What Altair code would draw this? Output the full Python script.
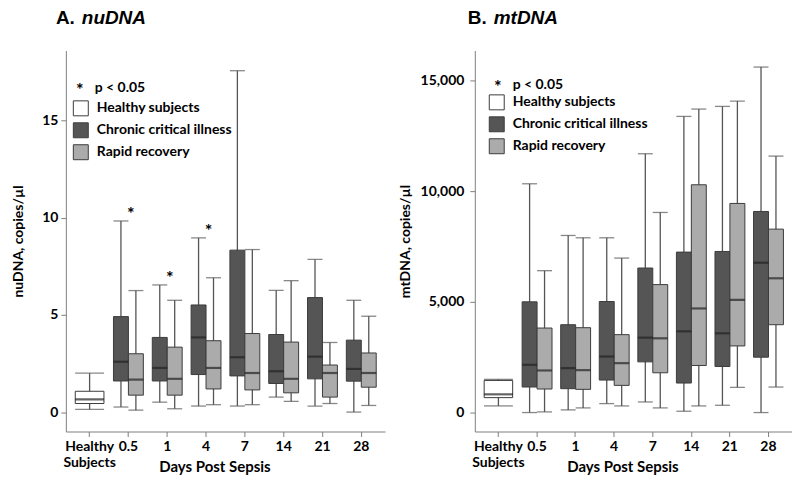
import altair as alt
import pandas as pd

categories = ["Healthy Subjects", "0.5", "1", "4", "7", "14", "21", "28"]
days = ["0.5", "1", "4", "7", "14", "21", "28"]
groups = ["Healthy subjects", "Chronic critical illness", "Rapid recovery"]
sub_groups = ["Chronic critical illness", "Rapid recovery"]

# ---- A. nuDNA (copies/ul) ----  [low whisker, q1, median, q3, high whisker]
nu_healthy = [0.14, 0.44, 0.65, 1.07, 2.0]
nu_cci_low = [0.26, 0.51, 0.31, 0.31, 0.77, 0.31, 0.0]
nu_cci_q1 = [1.60, 1.60, 1.93, 1.86, 1.47, 1.71, 1.59]
nu_cci_med = [2.59, 2.27, 3.84, 2.82, 2.10, 2.85, 2.22]
nu_cci_q3 = [4.91, 3.84, 5.51, 8.33, 3.99, 5.89, 3.70]
nu_cci_high = [9.83, 6.54, 8.96, 17.56, 6.26, 7.85, 5.75]
nu_rr_low = [0.10, 0.17, 0.38, 0.38, 0.55, 0.44, 0.34]
nu_rr_q1 = [0.87, 0.87, 1.19, 1.14, 0.99, 0.77, 1.28]
nu_rr_med = [1.67, 1.71, 2.27, 2.01, 1.71, 2.01, 2.01]
nu_rr_q3 = [3.00, 3.34, 3.67, 4.04, 3.60, 2.42, 3.04]
nu_rr_high = [6.25, 5.75, 6.91, 8.36, 6.76, 3.58, 4.93]
nu_star_days = ["0.5", "1", "4"]
nu_star_vals = [10.3, 7.0, 9.4]

# ---- B. mtDNA (copies/ul) ----
mt_healthy = [300, 674, 823, 1450, 1500]
mt_cci_low = [0, 120, 404, 479, 60, 329, 0]
mt_cci_q1 = [1153, 1078, 1467, 2290, 1332, 2081, 2500]
mt_cci_med = [2156, 2006, 2530, 3383, 3668, 3578, 6766]
mt_cci_q3 = [5000, 3967, 5015, 6527, 7246, 7275, 9081]
mt_cci_high = [10331, 7997, 7892, 11687, 13373, 13825, 15602]
mt_rr_low = [30, 210, 299, 210, 299, 1138, 1153]
mt_rr_q1 = [1063, 1048, 1228, 1796, 2126, 3009, 3967]
mt_rr_med = [1901, 1916, 2231, 3353, 4701, 5090, 6063]
mt_rr_q3 = [3817, 3832, 3518, 5778, 10286, 9443, 8283]
mt_rr_high = [6407, 7892, 6976, 9036, 13705, 14066, 11581]

FONT = "Lato"
CCI_FILL = "#555555"
RR_FILL = "#ababab"
STROKE = "#3c3c3c"
AXIS_GRAY = "#808080"


def make_df(healthy, cci, rr):
    rows = [dict(cat=categories[0], group=groups[0], low=healthy[0], q1=healthy[1],
                 med=healthy[2], q3=healthy[3], high=healthy[4])]
    for name, arr in ((groups[1], cci), (groups[2], rr)):
        for i, d in enumerate(days):
            rows.append(dict(cat=d, group=name, low=arr[0][i], q1=arr[1][i],
                             med=arr[2][i], q3=arr[3][i], high=arr[4][i]))
    return pd.DataFrame(rows)


def panel(df, w, h, domain, ticks, fmt, ytitle, ytitle_pad, lab_pad,
          letter, name, title_dx, leg_x, leg_y, star_pos, stars=None):
    xenc = alt.X("cat:N", sort=categories,
                 scale=alt.Scale(domain=categories, paddingInner=0.23, paddingOuter=0.227),
                 axis=alt.Axis(title="Days Post Sepsis", labelAngle=0, domainColor=AXIS_GRAY,
                               tickColor=AXIS_GRAY, tickSize=5, labelPadding=3,
                               labelFont=FONT, labelFontSize=14, labelFontWeight="bold",
                               labelColor="black", labelLineHeight=16,
                               labelExpr="datum.label == 'Healthy Subjects' ? ['Healthy', 'Subjects'] : datum.label",
                               titleFont=FONT, titleFontSize=15, titleFontWeight="bold",
                               titleColor="black", titleX=w / 2 - 11, titleY=28,
                               titleAlign="center", titleBaseline="top"))
    yscale = alt.Scale(domain=domain, nice=False, zero=False)
    yaxis = alt.Axis(values=ticks, format=fmt, grid=False, domainColor=AXIS_GRAY,
                     tickColor=AXIS_GRAY, tickSize=5, labelPadding=lab_pad,
                     labelFont=FONT, labelFontSize=14, labelFontWeight="bold",
                     labelColor="black", title=ytitle, titleFont=FONT, titleFontSize=14,
                     titleFontWeight="bold", titleColor="black", titlePadding=ytitle_pad)
    xoff = alt.XOffset("group:N", scale=alt.Scale(domain=sub_groups, paddingInner=0, paddingOuter=0))
    color = alt.Color("group:N",
                      scale=alt.Scale(domain=groups, range=["white", CCI_FILL, RR_FILL]),
                      legend=alt.Legend(orient="none", legendX=leg_x, legendY=leg_y, title=None,
                                        symbolType="square", symbolSize=225,
                                        symbolStrokeColor=STROKE, symbolStrokeWidth=1,
                                        labelFont=FONT, labelFontSize=14, labelFontWeight="bold",
                                        labelColor="black", rowPadding=2, labelOffset=8,
                                        padding=0))
    base = alt.Chart(df)
    sub = base.transform_filter(alt.datum.group != groups[0])
    hea = base.transform_filter(alt.datum.group == groups[0])
    y = alt.Y("low:Q", scale=yscale, axis=yaxis)

    whisk = sub.mark_rule(color="#555555", strokeWidth=1.3).encode(
        x=xenc, xOffset=xoff, y=y, y2="high:Q")
    whisk_h = hea.mark_rule(color="#555555", strokeWidth=1.3).encode(
        x=xenc, y=y, y2="high:Q")
    cap_lo = sub.mark_tick(color="#555555", thickness=1.3, size=15).encode(
        x=xenc, xOffset=xoff, y=y)
    cap_hi = sub.mark_tick(color="#555555", thickness=1.3, size=15).encode(
        x=xenc, xOffset=xoff, y="high:Q")
    cap_lo_h = hea.mark_tick(color="#555555", thickness=1.3, size=29).encode(x=xenc, y=y)
    cap_hi_h = hea.mark_tick(color="#555555", thickness=1.3, size=29).encode(x=xenc, y="high:Q")
    boxes = sub.mark_bar(stroke=STROKE, strokeWidth=1).encode(
        x=xenc, xOffset=xoff, y="q1:Q", y2="q3:Q", color=color)
    box_h = hea.mark_bar(stroke=STROKE, strokeWidth=1, width={"band": 0.96}).encode(
        x=xenc, y="q1:Q", y2="q3:Q", color=color)
    med = sub.mark_tick(color="#222222", thickness=2.2, size=15).encode(
        x=xenc, xOffset=xoff, y="med:Q")
    med_h = hea.mark_tick(color="#222222", thickness=2.2, size=29).encode(x=xenc, y="med:Q")

    layers = [whisk, whisk_h, cap_lo, cap_hi, cap_lo_h, cap_hi_h, boxes, box_h, med, med_h]

    if stars is not None:
        sdf = pd.DataFrame({"cat": stars[0], "v": stars[1]})
        layers.append(alt.Chart(sdf).mark_text(text="*", font=FONT, fontSize=18,
                                               fontWeight="bold", dx=2.5, dy=3,
                                               color="black").encode(
            x=alt.X("cat:N", sort=categories), y=alt.Y("v:Q")))

    tdf = pd.DataFrame({"t": ["*"]})
    layers.append(alt.Chart(tdf).mark_text(text="*", font=FONT, fontSize=18, fontWeight="bold",
                                           color="black", dy=3).encode(
        x=alt.value(star_pos[0]), y=alt.value(star_pos[1])))
    layers.append(alt.Chart(tdf).mark_text(text="p < 0.05", font=FONT, fontSize=14,
                                           fontWeight="bold", color="black", align="left",
                                           baseline="middle").encode(
        x=alt.value(star_pos[0] + 15), y=alt.value(star_pos[1])))
    layers.append(alt.Chart(tdf).mark_text(text=letter, font="Liberation Sans", fontSize=19,
                                           fontWeight="bold", color="black", align="left",
                                           baseline="alphabetic").encode(
        x=alt.value(title_dx), y=alt.value(-27)))
    layers.append(alt.Chart(tdf).mark_text(text=name, font="Liberation Sans", fontSize=19,
                                           fontWeight="bold", fontStyle="italic", color="black",
                                           align="left", baseline="alphabetic").encode(
        x=alt.value(title_dx + 26), y=alt.value(-27)))

    return alt.layer(*layers).resolve_scale(color="shared").properties(width=w, height=h)


df_nu = make_df(nu_healthy,
                (nu_cci_low, nu_cci_q1, nu_cci_med, nu_cci_q3, nu_cci_high),
                (nu_rr_low, nu_rr_q1, nu_rr_med, nu_rr_q3, nu_rr_high))
df_mt = make_df(mt_healthy,
                (mt_cci_low, mt_cci_q1, mt_cci_med, mt_cci_q3, mt_cci_high),
                (mt_rr_low, mt_rr_q1, mt_rr_med, mt_rr_q3, mt_rr_high))

left = panel(df_nu, 320, 382, [-1, 18.6], [0, 5, 10, 15], "d", "nuDNA, copies/µl", 16, 3,
             "A.", "nuDNA", -10, 7, 50, (14, 38), stars=(nu_star_days, nu_star_vals))
right = panel(df_mt, 318, 382, [-856, 16350], [0, 5000, 10000, 15000], ",d", "mtDNA, copies/µl",
              8, 6, "B.", "mtDNA", -7, 14, 44, (23, 35))

chart = alt.hconcat(left, right, spacing=13).resolve_scale(
    color="independent", y="independent").resolve_legend(color="independent").properties(
    padding={"left": 3, "top": 0, "right": 0, "bottom": 0}).configure(
    background="white", view=alt.ViewConfig(stroke=None))

chart.save("out.html", embed_options={"renderer": "svg", "actions": False})
